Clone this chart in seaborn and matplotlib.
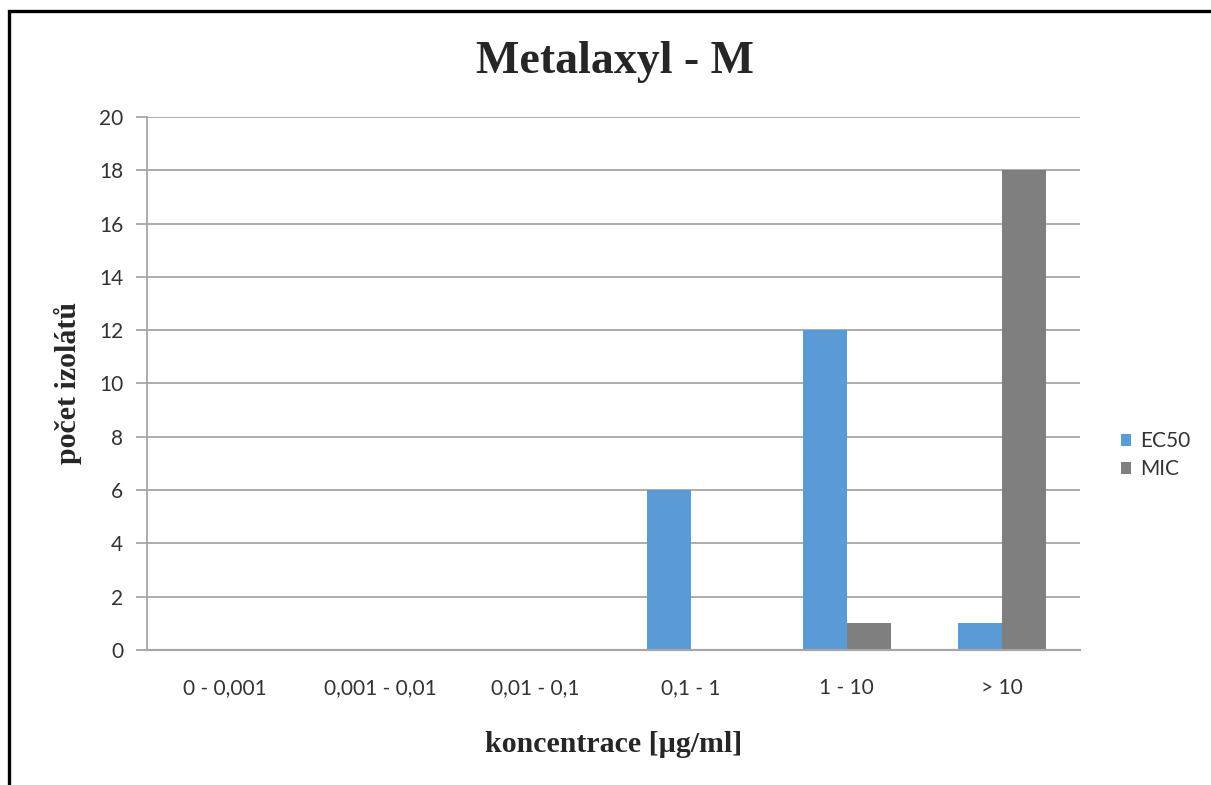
import matplotlib
matplotlib.use("Agg")
import matplotlib.pyplot as plt
import pandas as pd
import seaborn as sns
from matplotlib.patches import Rectangle

categories = ["0 - 0,001", "0,001 - 0,01", "0,01 - 0,1", "0,1 - 1", "1 - 10", "> 10"]
ec50 = [0, 0, 0, 6, 12, 1]
mic = [0, 0, 0, 0, 1, 18]
series = ["EC50", "MIC"]
colors = ["#5B9BD5", "#7F7F7F"]

df = pd.DataFrame({
    "kategorie": categories * 2,
    "pocet": ec50 + mic,
    "serie": [series[0]] * len(categories) + [series[1]] * len(categories),
})

sns.set_theme(style="white")
plt.rcParams["font.family"] = ["Lato", "DejaVu Sans"]

fig = plt.figure(figsize=(12.11, 7.85), dpi=100)
ax = fig.add_axes([0.1214, 0.172, 0.7704, 0.679])

sns.barplot(data=df, x="kategorie", y="pocet", hue="serie", order=categories,
            hue_order=series, palette=colors, width=0.566, gap=0,
            saturation=1, ax=ax, errorbar=None, linewidth=0)

ax.set_ylim(0, 20)
ax.set_yticks(range(0, 21, 2))
ax.set_xlim(-0.5, len(categories) - 0.5)
ax.yaxis.grid(True, color="#A6A6A6", linewidth=1.3)
ax.set_axisbelow(True)
for side in ["top", "right"]:
    ax.spines[side].set_visible(False)
ax.spines["left"].set_color("#A6A6A6")
ax.spines["left"].set_linewidth(1.3)
ax.spines["bottom"].set_color("#A6A6A6")
ax.spines["bottom"].set_linewidth(1.6)
ax.tick_params(axis="y", length=8, width=1.3, color="#A6A6A6", labelsize=15,
               labelcolor="#333333", pad=9, left=True)
ax.tick_params(axis="x", length=0, labelsize=15, labelcolor="#333333", pad=20)

ax.set_xlabel("koncentrace [µg/ml]", family="Liberation Serif", fontweight="bold",
              fontsize=21.5, labelpad=24)
ax.set_ylabel("počet izolátů", family="Liberation Serif", fontweight="bold",
              fontsize=21.5, labelpad=12)
fig.text(0.508, 0.921, "Metalaxyl - M", family="Liberation Serif", fontweight="bold",
         fontsize=33, ha="center", va="center")

handles, labels = ax.get_legend_handles_labels()
ax.legend(handles, labels, loc="center left", bbox_to_anchor=(0.91, 0.42),
          bbox_transform=fig.transFigure, frameon=False, fontsize=15,
          handlelength=0.5, handleheight=0.5, handletextpad=0.45, labelspacing=0.4,
          labelcolor="#333333")

fig.patches.append(Rectangle((0.0074, -0.2), 1.2, 1.186, transform=fig.transFigure,
                             fill=False, edgecolor="black", linewidth=2.4))

fig.savefig("out.png", dpi=100)
